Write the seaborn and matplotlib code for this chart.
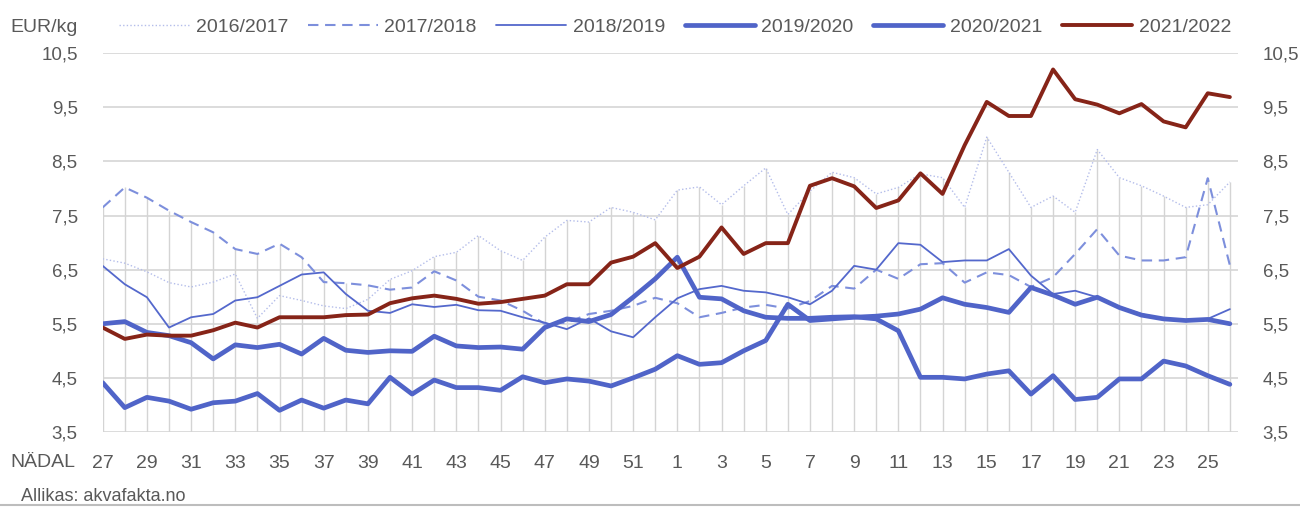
import numpy as np
import pandas as pd
import seaborn as sns
import matplotlib.pyplot as plt
from matplotlib.lines import Line2D

sns.set_theme(style="white")
plt.rcParams["font.family"] = ["Liberation Sans", "DejaVu Sans"]

# week labels (season runs from week 27 to week 26 next year)
weeks = [27, 28, 29, 30, 31, 32, 33, 34, 35, 36, 37, 38, 39, 40, 41, 42, 43,
         44, 45, 46, 47, 48, 49, 50, 51, 52, 1, 2, 3, 4, 5, 6, 7, 8, 9, 10,
         11, 12, 13, 14, 15, 16, 17, 18, 19, 20, 21, 22, 23, 24, 25, 26]

s2016 = [6.70, 6.62, 6.46, 6.26, 6.18, 6.27, 6.42, 5.60, 6.02, 5.93, 5.83, 5.78, 5.95,
         6.32, 6.48, 6.74, 6.82, 7.13, 6.85, 6.67, 7.10, 7.41, 7.38, 7.65, 7.56, 7.42,
         7.97, 8.03, 7.70, 8.05, 8.38, 7.52, 7.95, 8.30, 8.20, 7.90, 8.02, 8.27, 8.20,
         7.65, 8.95, 8.30, 7.65, 7.86, 7.56, 8.72, 8.20, 8.05, 7.86, 7.65, 7.70, 8.12]
s2017 = [7.65, 8.02, 7.83, 7.59, 7.38, 7.19, 6.88, 6.79, 6.98, 6.73, 6.27, 6.25, 6.21,
         6.13, 6.17, 6.47, 6.30, 6.00, 5.93, 5.74, 5.50, 5.52, 5.68, 5.74, 5.83, 5.98,
         5.88, 5.62, 5.70, 5.80, 5.85, 5.78, 5.92, 6.20, 6.15, 6.50, 6.33, 6.60, 6.62,
         6.26, 6.45, 6.40, 6.18, 6.36, 6.79, 7.25, 6.76, 6.67, 6.67, 6.73, 8.19, 6.58]
s2018 = [6.57, 6.23, 5.99, 5.43, 5.62, 5.68, 5.93, 5.99, 6.20, 6.41, 6.45, 6.05, 5.74,
         5.70, 5.86, 5.81, 5.85, 5.75, 5.74, 5.62, 5.52, 5.40, 5.60, 5.36, 5.25, 5.62,
         5.97, 6.14, 6.20, 6.11, 6.08, 5.99, 5.86, 6.11, 6.57, 6.50, 6.99, 6.96, 6.64,
         6.67, 6.67, 6.88, 6.39, 6.05, 6.11, 5.99, 5.81, 5.68, 5.59, 5.56, 5.59, 5.77]
s2019 = [5.50, 5.54, 5.34, 5.28, 5.15, 4.85, 5.11, 5.06, 5.12, 4.94, 5.23, 5.01, 4.97,
         5.00, 4.99, 5.27, 5.09, 5.06, 5.07, 5.03, 5.43, 5.59, 5.54, 5.67, 5.99, 6.33,
         6.73, 5.99, 5.96, 5.74, 5.62, 5.60, 5.60, 5.62, 5.63, 5.59, 5.37, 4.51, 4.51,
         4.48, 4.57, 4.63, 4.20, 4.54, 4.10, 4.14, 4.48, 4.48, 4.81, 4.72, 4.54, 4.38]
s2020 = [4.41, 3.95, 4.14, 4.07, 3.92, 4.04, 4.07, 4.21, 3.90, 4.09, 3.94, 4.09, 4.02,
         4.51, 4.20, 4.46, 4.32, 4.32, 4.27, 4.52, 4.41, 4.48, 4.44, 4.35, 4.50, 4.66,
         4.91, 4.75, 4.78, 5.00, 5.19, 5.86, 5.56, 5.59, 5.62, 5.64, 5.68, 5.77, 5.98,
         5.86, 5.80, 5.71, 6.17, 6.03, 5.86, 5.99, 5.80, 5.66, 5.59, 5.56, 5.58, 5.50]
s2021 = [5.43, 5.22, 5.30, 5.28, 5.28, 5.38, 5.52, 5.43, 5.62, 5.62, 5.62, 5.66, 5.67,
         5.88, 5.97, 6.02, 5.96, 5.87, 5.90, 5.96, 6.02, 6.23, 6.23, 6.63, 6.74, 6.99,
         6.53, 6.74, 7.28, 6.79, 6.99, 6.99, 8.05, 8.19, 8.04, 7.64, 7.78, 8.28, 7.90,
         8.80, 9.60, 9.34, 9.34, 10.20, 9.65, 9.55, 9.39, 9.56, 9.24, 9.13, 9.76, 9.69]

seasons = ["2016/2017", "2017/2018", "2018/2019", "2019/2020", "2020/2021", "2021/2022"]
series = [s2016, s2017, s2018, s2019, s2020, s2021]

pos = np.arange(len(weeks))
df = pd.DataFrame({"pos": pos})
for name, vals in zip(seasons, series):
    df[name] = vals

styles = {
    "2016/2017": dict(color="#b4bdea", lw=1.0, ls=(0, (1, 1.6))),
    "2017/2018": dict(color="#7d8fdc", lw=1.5, ls=(0, (5, 3.2))),
    "2018/2019": dict(color="#5468cc", lw=1.3, ls="-"),
    "2019/2020": dict(color="#5064c8", lw=3.4, ls="-"),
    "2020/2021": dict(color="#5064c8", lw=3.4, ls="-"),
    "2021/2022": dict(color="#862418", lw=2.8, ls="-"),
}

grey = "#595959"
fig = plt.figure(figsize=(13, 5.07), dpi=100)
ax = fig.add_axes([0.079, 0.148, 0.873, 0.747])

# drop lines up to the highest of the blue series
top = df[seasons[:5]].max(axis=1)
ax.vlines(df["pos"], 3.5, top, color="#d4d4d4", lw=1.0, zorder=1)

for name in seasons:
    st = styles[name]
    sns.lineplot(data=df, x="pos", y=name, ax=ax, color=st["color"],
                 linewidth=st["lw"], linestyle=st["ls"], zorder=3)

ax.set_xlim(0, 51.35)
ax.set_ylim(3.5, 10.5)
yt = [3.5, 4.5, 5.5, 6.5, 7.5, 8.5, 9.5, 10.5]
ax.set_yticks(yt)
ax.set_yticklabels([f"{v:.1f}".replace(".", ",") for v in yt])
ax.yaxis.grid(True, color="#d6d6d6", lw=1.2)
ax.set_xticks(pos)
ax.set_xticklabels([str(w) if k % 2 == 0 else "" for k, w in enumerate(weeks)])
ax.tick_params(axis="x", direction="inout", length=9, color="#d6d6d6",
               labelsize=14, labelcolor=grey, pad=12)
ax.tick_params(axis="y", left=False, right=False, labelleft=True,
               labelright=True, labelsize=13.5, labelcolor=grey, pad=12)
for sp in ax.spines.values():
    sp.set_visible(False)
ax.set_xlabel("")
ax.set_ylabel("")

fig.text(0.008, 0.087, "NÄDAL", fontsize=14, color=grey, va="center")
fig.text(0.008, 0.946, "EUR/kg", fontsize=14, color=grey, va="center")
fig.text(0.016, 0.02, "Allikas: akvafakta.no", fontsize=13, color=grey, va="center")
fig.add_artist(Line2D([0, 1], [0.004, 0.004], color="#bdbdbd", lw=1.5))

handles = [Line2D([], [], color=styles[n]["color"], lw=styles[n]["lw"],
                  ls=styles[n]["ls"]) for n in seasons]
fig.legend(handles, seasons, loc="center left", bbox_to_anchor=(0.078, 0.946),
           ncol=6, frameon=False, fontsize=14, labelcolor=grey,
           handlelength=3.6, handletextpad=0.35, columnspacing=1.0)

fig.savefig("out.png", dpi=100, facecolor="white")
